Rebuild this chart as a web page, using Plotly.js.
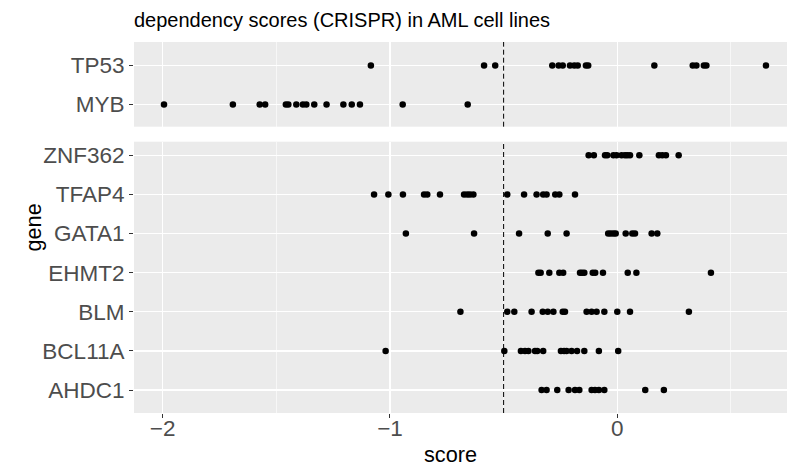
<!DOCTYPE html>
<html>
<head>
<meta charset="utf-8">
<script src="https://cdn.plot.ly/plotly-3.0.1.min.js"></script>
<style>html,body{margin:0;padding:0;background:#fff;}#chart{width:787px;height:472px;}</style>
</head>
<body>
<div id="chart"></div>
<script>
// ---- data ----
const topGenes = ['MYB', 'TP53'];
const bottomGenes = ['AHDC1', 'BCL11A', 'BLM', 'EHMT2', 'GATA1', 'TFAP4', 'ZNF362'];
const threshold = -0.5;
const xTickVals = [-2, -1, 0];

const TP53 = [-1.084, -0.586, -0.537, -0.286, -0.258, -0.240, -0.208, -0.189, -0.174, -0.138, -0.128, 0.163, 0.332, 0.348, 0.381, 0.392, 0.654];
const MYB = [-1.994, -1.691, -1.573, -1.549, -1.458, -1.447, -1.412, -1.383, -1.368, -1.333, -1.279, -1.205, -1.168, -1.132, -0.944, -0.658];
const ZNF362 = [-0.126, -0.103, -0.054, -0.044, -0.017, -0.003, 0.019, 0.034, 0.044, 0.056, 0.097, 0.183, 0.198, 0.214, 0.270];
const TFAP4 = [-1.070, -1.007, -0.943, -0.850, -0.836, -0.780, -0.674, -0.660, -0.648, -0.633, -0.484, -0.410, -0.355, -0.326, -0.311, -0.273, -0.255, -0.186];
const GATA1 = [-0.930, -0.630, -0.432, -0.306, -0.223, -0.040, -0.029, -0.017, -0.007, 0.037, 0.066, 0.078, 0.151, 0.176];
const EHMT2 = [-0.347, -0.337, -0.299, -0.255, -0.238, -0.164, -0.155, -0.145, -0.108, -0.097, -0.063, 0.046, 0.084, 0.412];
const BLM = [-0.690, -0.484, -0.453, -0.377, -0.328, -0.306, -0.281, -0.240, -0.230, -0.135, -0.113, -0.091, -0.057, 0.000, 0.056, 0.315];
const BCL11A = [-1.019, -0.497, -0.424, -0.406, -0.391, -0.362, -0.352, -0.326, -0.248, -0.234, -0.223, -0.201, -0.177, -0.145, -0.081, 0.004];
const AHDC1 = [-0.333, -0.311, -0.264, -0.214, -0.186, -0.167, -0.113, -0.098, -0.081, -0.057, 0.123, 0.205];

const scores = {TP53, MYB, ZNF362, TFAP4, GATA1, EHMT2, BLM, BCL11A, AHDC1};

// ---- traces ----
const marker = {color: '#000000', size: 6.5};
const traces = [];
topGenes.forEach(g => traces.push({
  type: 'scatter', mode: 'markers', x: scores[g], y: scores[g].map(() => g),
  xaxis: 'x', yaxis: 'y2', marker: marker, hoverinfo: 'x+y', showlegend: false
}));
bottomGenes.forEach(g => traces.push({
  type: 'scatter', mode: 'markers', x: scores[g], y: scores[g].map(() => g),
  xaxis: 'x', yaxis: 'y', marker: marker, hoverinfo: 'x+y', showlegend: false
}));

const FAMILY = 'Liberation Sans, Arial, sans-serif';
const tickFont = {family: FAMILY, size: 22.5, color: '#4D4D4D'};
const yCommon = {
  type: 'category', categoryorder: 'array', showgrid: true, gridcolor: '#FFFFFF', gridwidth: 1.3,
  zeroline: false, showline: false, ticks: 'outside', ticklen: 4, tickwidth: 1, tickcolor: '#333333',
  tickfont: tickFont, anchor: 'x', fixedrange: true
};

const layout = {
  width: 787, height: 472,
  margin: {l: 134, r: 0, t: 42, b: 59},
  paper_bgcolor: '#FFFFFF', plot_bgcolor: '#EBEBEB',
  showlegend: false,
  font: {family: FAMILY},
  title: {
    text: 'dependency scores (CRISPR) in AML cell lines',
    font: {family: FAMILY, size: 20, color: '#000000'},
    xref: 'paper', x: 0, xanchor: 'left',
    yref: 'container', y: 0.957, yanchor: 'middle',
    automargin: false
  },
  xaxis: {
    range: [-2.126, 0.7466], tickmode: 'array', tickvals: xTickVals,
    showgrid: true, gridcolor: '#FFFFFF', gridwidth: 1.3,
    minor: {dtick: 0.5, tick0: 0, showgrid: true, gridcolor: '#FFFFFF', gridwidth: 0.6, ticks: ''},
    zeroline: false, showline: false, ticks: 'outside', ticklen: 4, tickwidth: 1, tickcolor: '#333333',
    tickfont: tickFont, ticklabelstandoff: -9, anchor: 'y', domain: [0, 1], fixedrange: true
  },
  yaxis: Object.assign({}, yCommon, {
    categoryarray: bottomGenes, range: [-0.587, 6.347], domain: [0, 0.7313]
  }),
  yaxis2: Object.assign({}, yCommon, {
    categoryarray: topGenes, range: [-0.564, 1.6], domain: [0.7717, 1]
  }),
  shapes: [
    {type: 'line', xref: 'x', yref: 'y domain', x0: threshold, x1: threshold, y0: 0, y1: 1,
     line: {color: '#000000', width: 1, dash: '5px,3px'}},
    {type: 'line', xref: 'x', yref: 'y2 domain', x0: threshold, x1: threshold, y0: 0, y1: 1,
     line: {color: '#000000', width: 1, dash: '5px,3px'}}
  ],
  annotations: [
    {text: 'score', xref: 'paper', yref: 'paper', x: (450 - 134) / 653, y: -0.113,
     xanchor: 'center', yanchor: 'middle', showarrow: false,
     font: {family: FAMILY, size: 21.7, color: '#000000'}},
    {text: 'gene', xref: 'paper', yref: 'paper', x: (33 - 134) / 653, y: 0.5, textangle: -90,
     xanchor: 'center', yanchor: 'middle', showarrow: false,
     font: {family: FAMILY, size: 21.7, color: '#000000'}}
  ]
};

Plotly.newPlot('chart', traces, layout, {displayModeBar: false, staticPlot: true});
</script>
</body>
</html>
